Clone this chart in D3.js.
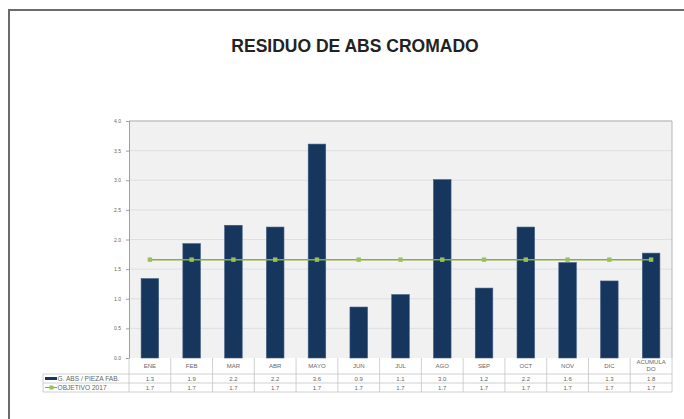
<!DOCTYPE html>
<html>
<head>
<meta charset="utf-8">
<script src="https://cdn.jsdelivr.net/npm/d3@7"></script>
<style>
  body { margin: 0; background: #fff; }
  svg { display: block; font-family: "Liberation Sans", Arial, sans-serif; }
</style>
</head>
<body>
<script>
var months = ['ENE','FEB','MAR','ABR','MAYO','JUN','JUL','AGO','SEP','OCT','NOV','DIC','ACUMULADO'];
var residuo = [1.34, 1.93, 2.24, 2.21, 3.61, 0.86, 1.07, 3.01, 1.18, 2.21, 1.61, 1.30, 1.77];
var objetivo = [1.66, 1.66, 1.66, 1.66, 1.66, 1.66, 1.66, 1.66, 1.66, 1.66, 1.66, 1.66, 1.66];
var yTicks = [0, 0.5, 1, 1.5, 2, 2.5, 3, 3.5, 4];
var seriesNames = ['G. ABS / PIEZA FAB.', 'OBJETIVO 2017'];

const WIDTH = 684;
const HEIGHT = 419;
var plot = {left: 129, right: 672, top: 121, bottom: 358};
var BAR = '#17365d';
var GREEN = '#8aad3f';
var fmt = d3.format('.1f');

var svg = d3.select('body').append('svg')
    .attr('width', WIDTH)
    .attr('height', HEIGHT);

// outer frame (top + left visible)
svg.append('path')
    .attr('d', 'M9,' + HEIGHT + 'V10H' + WIDTH)
    .attr('fill', 'none')
    .attr('stroke', '#6b6b6b')
    .attr('stroke-width', 2);

svg.append('text')
    .attr('x', 355)
    .attr('y', 52)
    .attr('text-anchor', 'middle')
    .attr('font-weight', 'bold')
    .attr('font-size', 17.5)
    .attr('fill', '#222')
    .text('RESIDUO DE ABS CROMADO');

var x = d3.scaleBand()
    .domain(months)
    .range([plot.left, plot.right]);

var y = d3.scaleLinear()
    .domain([0, 4])
    .range([plot.bottom, plot.top]);

svg.append('rect')
    .attr('x', plot.left)
    .attr('y', plot.top)
    .attr('width', plot.right - plot.left)
    .attr('height', plot.bottom - plot.top)
    .attr('fill', '#f1f1f1');

svg.selectAll('.grid')
    .data(yTicks.slice(1))
    .enter()
    .append('line')
    .attr('x1', plot.left)
    .attr('x2', plot.right)
    .attr('y1', function(d) { return y(d); })
    .attr('y2', function(d) { return y(d); })
    .attr('stroke', '#dcdfe3')
    .attr('stroke-width', 1);

// plot border
svg.append('path')
    .attr('d', 'M' + plot.left + ',' + plot.top + 'H' + plot.right + 'V' + plot.bottom)
    .attr('fill', 'none')
    .attr('stroke', '#b5b5b5')
    .attr('stroke-width', 1);

var yAxis = svg.append('g')
    .attr('transform', 'translate(' + plot.left + ',0)')
    .call(d3.axisLeft(y).tickValues(yTicks).tickFormat(fmt).tickSize(3).tickPadding(5));
yAxis.select('.domain').attr('stroke', '#a0a0a0');
yAxis.selectAll('line').attr('stroke', '#a0a0a0');
yAxis.selectAll('text').attr('font-size', 5).attr('fill', '#666');

var bw = x.bandwidth() * 0.42;
svg.selectAll('.bar')
    .data(residuo)
    .enter()
    .append('rect')
    .attr('x', function(d, i) { return x(months[i]) + (x.bandwidth() - bw) / 2; })
    .attr('y', function(d) { return y(d); })
    .attr('width', bw)
    .attr('height', function(d) { return plot.bottom - y(d); })
    .attr('fill', BAR)
    .attr('stroke', '#3c5a80')
    .attr('stroke-width', 0.6);

var line = d3.line()
    .x(function(d, i) { return x(months[i]) + x.bandwidth() / 2; })
    .y(function(d) { return y(d); });

svg.append('path')
    .datum(objetivo)
    .attr('d', line)
    .attr('fill', 'none')
    .attr('stroke', GREEN)
    .attr('stroke-width', 1.5);

svg.selectAll('.mk')
    .data(objetivo)
    .enter()
    .append('rect')
    .attr('x', function(d, i) { return x(months[i]) + x.bandwidth() / 2 - 2.2; })
    .attr('y', function(d) { return y(d) - 2.2; })
    .attr('width', 4.4)
    .attr('height', 4.4)
    .attr('fill', '#9bc05a');

// data table
var rows = {head: plot.bottom, r1: 374, r2: 383, end: 392};
var tbl = svg.append('g').attr('stroke', '#c4c4c4').attr('stroke-width', 0.8);
tbl.append('line').attr('x1', 43).attr('x2', plot.right).attr('y1', rows.r1).attr('y2', rows.r1);
tbl.append('line').attr('x1', 43).attr('x2', plot.right).attr('y1', rows.r2).attr('y2', rows.r2);
tbl.append('line').attr('x1', 43).attr('x2', plot.right).attr('y1', rows.end).attr('y2', rows.end);
tbl.append('line').attr('x1', 43).attr('x2', 43).attr('y1', rows.r1).attr('y2', rows.end);
tbl.selectAll('.sep')
    .data(months)
    .enter()
    .append('line')
    .attr('x1', function(d) { return x(d); })
    .attr('x2', function(d) { return x(d); })
    .attr('y1', rows.head)
    .attr('y2', rows.end);
tbl.append('line').attr('x1', plot.right).attr('x2', plot.right).attr('y1', rows.head).attr('y2', rows.end);

var cellText = function(sel) {
    sel.attr('text-anchor', 'middle').attr('font-size', 6).attr('fill', '#666');
};

svg.selectAll('.hd')
    .data(months)
    .enter()
    .append('text')
    .attr('x', function(d) { return x(d) + x.bandwidth() / 2; })
    .attr('y', function(d) { return d.length > 6 ? 364 : 368; })
    .call(cellText)
    .each(function(d) {
        var t = d3.select(this);
        if (d.length > 6) {
            t.append('tspan').attr('x', t.attr('x')).text(d.slice(0, 7));
            t.append('tspan').attr('x', t.attr('x')).attr('dy', 6.5).text(d.slice(7));
        } else {
            t.text(d);
        }
    });

[residuo, objetivo].forEach(function(vals, r) {
    svg.selectAll('.v' + r)
        .data(vals)
        .enter()
        .append('text')
        .attr('x', function(d, i) { return x(months[i]) + x.bandwidth() / 2; })
        .attr('y', r === 0 ? 381 : 390)
        .call(cellText)
        .text(function(d) { return fmt(d); });
});

// legend keys in table
svg.append('rect').attr('x', 45).attr('y', 377).attr('width', 12).attr('height', 3).attr('fill', BAR);
svg.append('line').attr('x1', 45).attr('x2', 57).attr('y1', 387.5).attr('y2', 387.5)
    .attr('stroke', GREEN).attr('stroke-width', 1.2);
svg.append('rect').attr('x', 49.5).attr('y', 385.5).attr('width', 4).attr('height', 4).attr('fill', '#9bc05a');
svg.selectAll('.lg')
    .data(seriesNames)
    .enter()
    .append('text')
    .attr('x', 57.5)
    .attr('y', function(d, i) { return i === 0 ? 381.2 : 390.2; })
    .attr('font-size', 6.6)
    .attr('fill', '#666')
    .text(function(d) { return d; });
</script>
</body>
</html>
